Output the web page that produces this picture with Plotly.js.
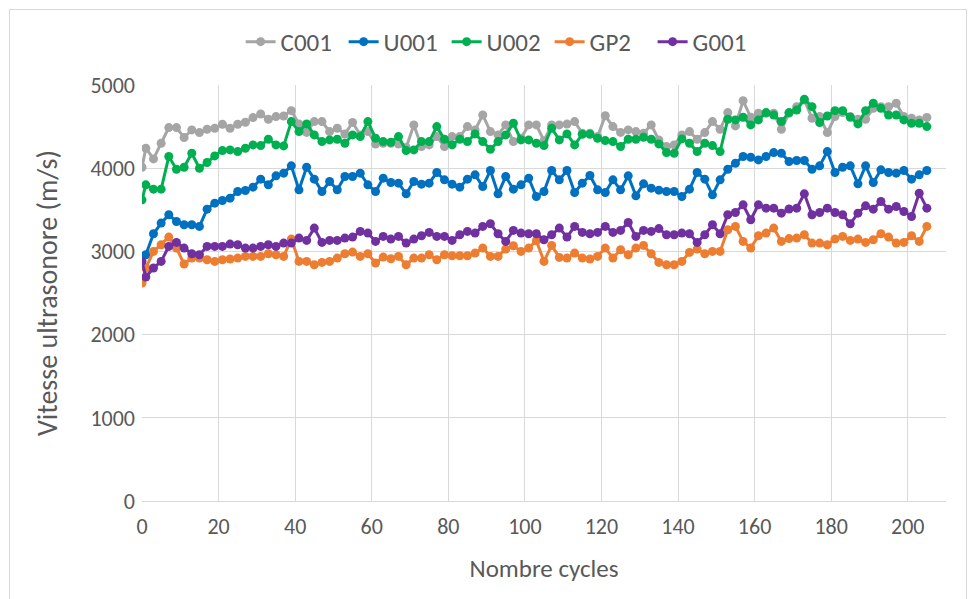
<!DOCTYPE html>
<html>
<head>
<meta charset="utf-8">
<script src="https://cdn.plot.ly/plotly-3.0.1.min.js"></script>
<style>
  html, body { margin: 0; padding: 0; background: #ffffff; }
  #chart { width: 971px; height: 599px; position: relative; }
  #frame { position: absolute; left: 9px; top: 9px; width: 958px; height: 600px; border: 1px solid #D9D9D9; pointer-events: none; box-sizing: border-box; }
</style>
</head>
<body>
<div id="chart"></div>
<div id="frame"></div>
<script>
// Cycle numbers (x values)
const cycles = [0, 1, 3, 5, 7, 9, 11, 13, 15, 17, 19, 21, 23, 25, 27, 29, 31, 33,
  35, 37, 39, 41, 43, 45, 47, 49, 51, 53, 55, 57, 59, 61, 63, 65, 67,
  69, 71, 73, 75, 77, 79, 81, 83, 85, 87, 89, 91, 93, 95, 97, 99, 101,
  103, 105, 107, 109, 111, 113, 115, 117, 119, 121, 123, 125, 127, 129, 131, 133, 135,
  137, 139, 141, 143, 145, 147, 149, 151, 153, 155, 157, 159, 161, 163, 165, 167, 169,
  171, 173, 175, 177, 179, 181, 183, 185, 187, 189, 191, 193, 195, 197, 199, 201, 203, 205];

const C001 = [4012, 4240, 4112, 4300, 4488, 4488, 4368, 4460, 4428, 4468, 4480, 4528, 4480, 4528, 4552, 4608, 4652, 4588,
  4620, 4628, 4692, 4530, 4430, 4560, 4560, 4440, 4480, 4410, 4550, 4400, 4440, 4290, 4300, 4300, 4290,
  4250, 4520, 4260, 4280, 4380, 4260, 4380, 4380, 4500, 4460, 4640, 4440, 4400, 4520, 4320, 4360, 4520,
  4520, 4330, 4520, 4520, 4530, 4560, 4420, 4420, 4380, 4630, 4500, 4430, 4460, 4440, 4420, 4520, 4340,
  4260, 4280, 4400, 4440, 4348, 4428, 4560, 4468, 4668, 4508, 4812, 4612, 4660, 4660, 4660, 4468, 4660,
  4740, 4820, 4600, 4620, 4428, 4620, 4668, 4620, 4588, 4588, 4720, 4740, 4740, 4780, 4620, 4600, 4580, 4610];

const U001 = [2940, 2960, 3212, 3340, 3440, 3360, 3320, 3320, 3300, 3508, 3580, 3612, 3640, 3720, 3732, 3772, 3868, 3800,
  3908, 3940, 4028, 3740, 4012, 3868, 3720, 3840, 3740, 3900, 3900, 3940, 3800, 3720, 3880, 3828, 3820,
  3692, 3840, 3808, 3820, 3948, 3860, 3808, 3772, 3868, 3920, 3780, 3972, 3692, 3900, 3748, 3800, 3880,
  3660, 3720, 3972, 3860, 3972, 3708, 3820, 3912, 3740, 3708, 3860, 3740, 3908, 3668, 3812, 3760, 3736,
  3720, 3720, 3660, 3748, 3948, 3868, 3680, 3860, 3988, 4060, 4140, 4132, 4100, 4140, 4188, 4180, 4080,
  4092, 4092, 3988, 4028, 4200, 3948, 4012, 4028, 3812, 4028, 3828, 3980, 3948, 3940, 3972, 3868, 3920, 3972];

const U002 = [3620, 3800, 3748, 3748, 4140, 3988, 4012, 4180, 4000, 4068, 4148, 4212, 4220, 4200, 4240, 4280, 4272, 4348,
  4280, 4268, 4560, 4440, 4532, 4400, 4320, 4340, 4348, 4300, 4400, 4380, 4560, 4360, 4320, 4312, 4380,
  4212, 4220, 4320, 4320, 4500, 4348, 4280, 4348, 4320, 4412, 4320, 4228, 4320, 4400, 4540, 4340, 4340,
  4300, 4272, 4480, 4340, 4412, 4280, 4408, 4408, 4360, 4332, 4320, 4260, 4348, 4348, 4372, 4348, 4292,
  4188, 4180, 4352, 4300, 4200, 4300, 4272, 4200, 4588, 4580, 4612, 4520, 4580, 4668, 4640, 4560, 4668,
  4700, 4828, 4740, 4548, 4628, 4692, 4692, 4612, 4532, 4692, 4780, 4720, 4640, 4640, 4580, 4540, 4540, 4500];

const GP2 = [2620, 2800, 3000, 3080, 3172, 3040, 2848, 2920, 2920, 2900, 2880, 2900, 2908, 2920, 2940, 2940, 2940, 2972,
  2960, 2940, 3148, 2880, 2880, 2840, 2868, 2880, 2920, 2972, 2992, 2940, 2972, 2860, 2932, 2912, 2940,
  2840, 2920, 2920, 2960, 2900, 2960, 2948, 2948, 2948, 2980, 3040, 2940, 2940, 3028, 3068, 3000, 3040,
  3128, 2880, 3072, 2928, 2920, 2980, 2920, 2908, 2940, 3040, 2920, 3020, 2960, 3040, 3072, 2972, 2868,
  2840, 2840, 2880, 2988, 3028, 2972, 3000, 3000, 3260, 3300, 3120, 3040, 3188, 3220, 3280, 3120, 3154,
  3160, 3200, 3100, 3100, 3080, 3148, 3180, 3132, 3148, 3108, 3140, 3212, 3172, 3100, 3108, 3188, 3120, 3300];

const G001 = [2880, 2692, 2800, 2880, 3060, 3108, 3040, 2972, 2960, 3060, 3060, 3060, 3088, 3080, 3040, 3040, 3060, 3080,
  3060, 3100, 3100, 3160, 3132, 3280, 3108, 3132, 3132, 3160, 3172, 3240, 3220, 3120, 3180, 3148, 3180,
  3100, 3148, 3188, 3228, 3180, 3180, 3132, 3200, 3240, 3220, 3300, 3332, 3212, 3120, 3252, 3220, 3212,
  3212, 3140, 3200, 3280, 3172, 3300, 3228, 3212, 3228, 3300, 3228, 3252, 3348, 3180, 3252, 3240, 3274,
  3200, 3200, 3220, 3212, 3108, 3200, 3320, 3212, 3440, 3468, 3560, 3380, 3560, 3520, 3520, 3460, 3510,
  3520, 3692, 3440, 3468, 3520, 3468, 3440, 3332, 3460, 3548, 3508, 3600, 3508, 3540, 3480, 3420, 3700, 3520];

const seriesNames = ["C001", "U001", "U002", "GP2", "G001"];
const seriesValues = [C001, U001, U002, GP2, G001];
const seriesColors = ["#A5A5A5", "#0070C0", "#00B050", "#ED7D31", "#7030A0"];

const FONT = "Carlito, Calibri, sans-serif";
const TXT = "#595959";

const traces = seriesNames.map((name, i) => ({
  type: "scatter",
  mode: "lines+markers",
  name: name,
  x: cycles,
  y: seriesValues[i],
  line: { color: seriesColors[i], width: 3 },
  marker: { color: seriesColors[i], size: 9 }
}));

const layout = {
  width: 971,
  height: 599,
  paper_bgcolor: "#ffffff",
  plot_bgcolor: "#ffffff",
  margin: { l: 142, r: 25, t: 85, b: 98 },
  font: { family: FONT, color: TXT, size: 22 },
  showlegend: true,
  legend: {
    orientation: "h",
    xref: "container", yref: "container",
    x: 0.513, xanchor: "center",
    y: 0.93, yanchor: "middle",
    font: { family: FONT, size: 25, color: TXT },
    itemwidth: 30,
    entrywidth: 58,
    entrywidthmode: "pixels",
    tracegroupgap: 0
  },
  xaxis: {
    range: [0, 210],
    tick0: 0, dtick: 20,
    showgrid: true, gridcolor: "#D9D9D9", gridwidth: 1,
    zeroline: false,
    showline: true, linecolor: "#D9D9D9", linewidth: 1,
    ticks: "", ticklen: 0,
    ticklabelstandoff: 6,
    tickfont: { family: FONT, size: 22, color: TXT },
    title: { text: "Nombre cycles", font: { family: FONT, size: 25, color: TXT }, standoff: 20 }
  },
  yaxis: {
    range: [0, 5000],
    tick0: 0, dtick: 1000,
    showgrid: true, gridcolor: "#D9D9D9", gridwidth: 1,
    zeroline: false,
    showline: false,
    ticks: "", ticklen: 0,
    ticklabelstandoff: 6,
    tickfont: { family: FONT, size: 22, color: TXT },
    title: { text: "Vitesse ultrasonore (m/s)", font: { family: FONT, size: 28, color: TXT }, standoff: 24 }
  }
};

Plotly.newPlot("chart", traces, layout, { displayModeBar: false, staticPlot: true });
</script>
</body>
</html>
